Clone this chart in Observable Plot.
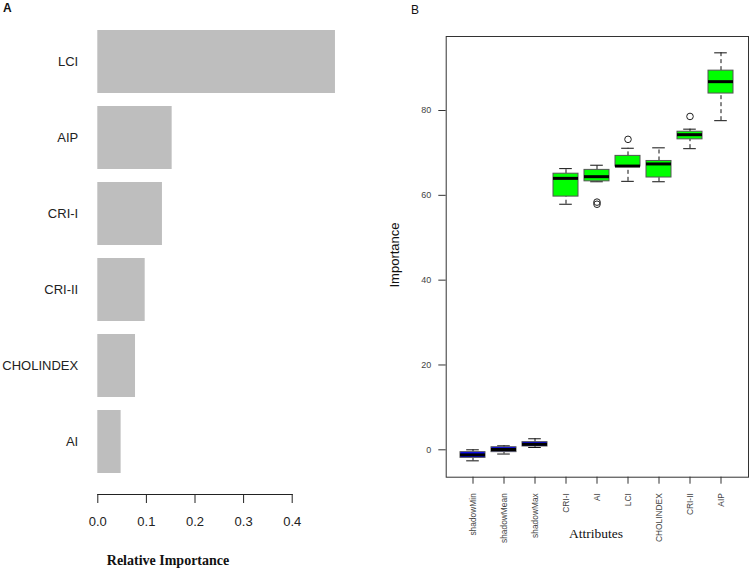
<!DOCTYPE html>
<html>
<head>
<meta charset="utf-8">
<script src="https://cdn.jsdelivr.net/npm/d3@7"></script>
<script src="https://cdn.jsdelivr.net/npm/@observablehq/plot@0.6"></script>
<style>
  body { margin: 0; background: #fff; }
  #wrap { position: relative; width: 749px; height: 570px; overflow: hidden; background: #fff; }
  #wrap > div.p { position: absolute; top: 0; }
  .lbl { position: absolute; white-space: nowrap; color: #111; }
</style>
</head>
<body>
<div id="wrap">
  <div class="p" id="pa" style="left:0px"></div>
  <div class="p" id="pb" style="left:370px"></div>
  <div class="lbl" style="left:3px;top:1px;font:bold 12px 'Liberation Sans',Arial,sans-serif;">A</div>
  <div class="lbl" style="left:411px;top:3px;font:12px 'Liberation Sans',Arial,sans-serif;">B</div>
  <div class="lbl" style="left:168px;top:561px;transform:translate(-50%,-50%);font:bold 14px 'Liberation Serif','Times New Roman',serif;">Relative Importance</div>
  <div class="lbl" style="left:596px;top:534px;transform:translate(-50%,-50%);font:13.5px 'Liberation Serif','Times New Roman',serif;">Attributes</div>
  <div class="lbl" style="left:394px;top:255px;transform:translate(-50%,-50%) rotate(-90deg);font:13px 'Liberation Sans',Arial,sans-serif;">Importance</div>
</div>
<script>
// ---- Panel A data ----
const featA = ["LCI", "AIP", "CRI-I", "CRI-II", "CHOLINDEX", "AI"];
const relImp = [0.489, 0.153, 0.133, 0.0975, 0.0776, 0.048];
const ticksA = [0, 0.1, 0.2, 0.3, 0.4];

// ---- Panel B data ----
const attrs = ["shadowMin", "shadowMean", "shadowMax", "CRI-I", "AI", "LCI", "CHOLINDEX", "CRI-II", "AIP"];
const lowerW = [-2.6, -1.0, 0.54, 57.9, 63.2, 63.3, 63.2, 71.0, 77.6];
const q1 =     [-1.9, -0.55, 0.78, 59.7, 63.3, 66.8, 64.2, 73.2, 84.0];
const med =    [-1.2, 0.07, 1.3, 64.0, 64.4, 66.9, 67.4, 74.3, 86.8];
const q3 =     [-0.56, 0.6, 1.8, 65.1, 66.0, 69.3, 68.1, 75.0, 89.4];
const upperW = [0.0, 0.94, 2.6, 66.3, 67.1, 71.1, 71.2, 75.6, 93.6];
const boxColor = ["#0000ff", "#0000ff", "#0000ff", "#00ff00", "#00ff00", "#00ff00", "#00ff00", "#00ff00", "#00ff00"];
const outAttr = ["AI", "AI", "LCI", "CRI-II"];
const outVal = [58.4, 57.9, 73.2, 78.6];
const ticksB = [0, 20, 40, 60, 80];

// ---- Panel A ----
const dataA = featA.map((f, i) => ({f, v: relImp[i]}));
const plotA = Plot.plot({
  width: 370, height: 570,
  marginLeft: 97.3, marginRight: 78.3, marginTop: 9.7, marginBottom: 76,
  style: {fontFamily: "'Liberation Sans', Arial, sans-serif", fontSize: "13px", color: "#222", background: "transparent"},
  x: {domain: [0, 0.4], label: null},
  y: {domain: featA, paddingInner: 0.169, paddingOuter: 0.231, label: null},
  marks: [
    Plot.barX(dataA, {x: "v", y: "f", fill: "#bebebe"}),
    Plot.frame({anchor: "bottom", stroke: "#222"}),
    Plot.axisX({ticks: ticksA, tickFormat: d3.format(".1f"), tickSize: 9, tickPadding: 13.5, label: null, stroke: "#222"}),
    Plot.axisY({tickSize: 0, tickPadding: 19.6, label: null})
  ]
});
document.getElementById("pa").appendChild(plotA);

// ---- Panel B ----
const dataB = attrs.map((a, i) => ({a, lo: lowerW[i], q1: q1[i], med: med[i], q3: q3[i], hi: upperW[i], c: boxColor[i]}));
const outs = outAttr.map((a, i) => ({a, v: outVal[i]}));
const plotB = Plot.plot({
  width: 379, height: 570,
  marginLeft: 75.7, marginRight: 1, marginTop: 36, marginBottom: 93.3,
  style: {fontFamily: "'Liberation Sans', Arial, sans-serif", fontSize: "9px", color: "#444", background: "transparent"},
  x: {domain: attrs, paddingInner: 0.2, paddingOuter: 0.46, label: null},
  y: {domain: [-6.46, 97.45], label: null},
  marks: [
    Plot.ruleX(dataB, {x: "a", y1: "q3", y2: "hi", stroke: "#111", strokeDasharray: "4,3"}),
    Plot.ruleX(dataB, {x: "a", y1: "lo", y2: "q1", stroke: "#111", strokeDasharray: "4,3"}),
    Plot.tickY(dataB, {x: "a", y: "hi", stroke: "#111", insetLeft: 6.2, insetRight: 6.2}),
    Plot.tickY(dataB, {x: "a", y: "lo", stroke: "#111", insetLeft: 6.2, insetRight: 6.2}),
    Plot.barY(dataB, {x: "a", y1: "q1", y2: "q3", fill: "c", stroke: "#555", strokeWidth: 1}),
    Plot.tickY(dataB, {x: "a", y: "med", stroke: "#000", strokeWidth: 3}),
    Plot.dot(outs, {x: "a", y: "v", r: 3.3, stroke: "#222", strokeWidth: 1, fill: "none"}),
    Plot.frame({stroke: "#333"}),
    Plot.axisY({ticks: ticksB, tickSize: 7.4, tickPadding: 7.6, label: null, stroke: "#333"}),
    Plot.axisX({tickSize: 7, tickPadding: 9, tickRotate: -90, fontSize: 8.4, label: null, stroke: "#333"})
  ]
});
document.getElementById("pb").appendChild(plotB);
</script>
</body>
</html>
